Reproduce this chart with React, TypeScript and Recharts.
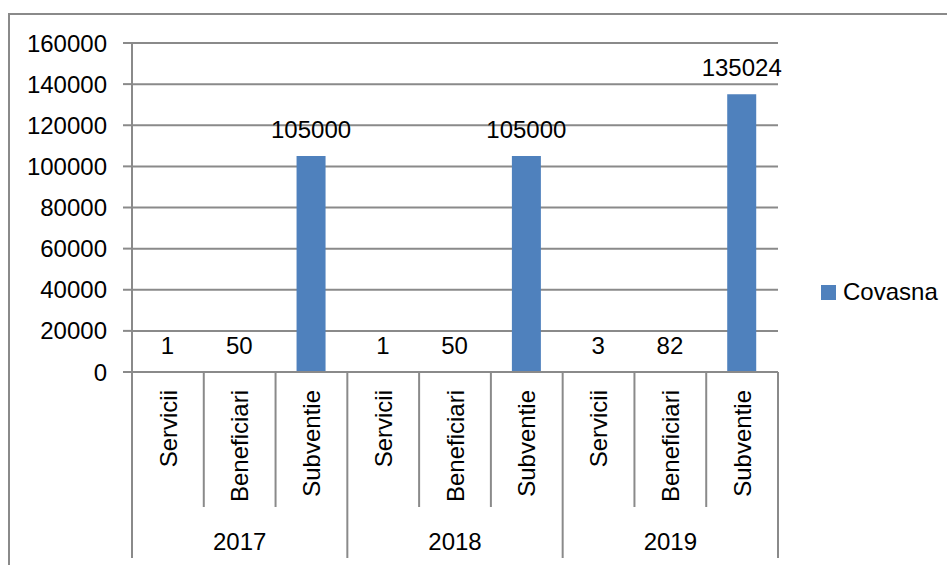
import React from "react";
import {
  BarChart,
  Bar,
  XAxis,
  YAxis,
  CartesianGrid,
  LabelList,
} from "recharts";

// ── Data ───────────────────────────────────────────────────────────────────

const years = ["2017", "2018", "2019"];
const indicators = ["Servicii", "Beneficiari", "Subventie"];
const covasna2017 = [1, 50, 105000];
const covasna2018 = [1, 50, 105000];
const covasna2019 = [3, 82, 135024];
const yTicks = [0, 20000, 40000, 60000, 80000, 100000, 120000, 140000, 160000];
const seriesName = "Covasna";

const valuesByYear = [covasna2017, covasna2018, covasna2019];

const chartData = years.flatMap((year, yi) =>
  indicators.map((ind, ii) => ({
    key: `${year}-${ind}`,
    year,
    indicator: ind,
    Covasna: valuesByYear[yi][ii],
  }))
);

// ── Layout ─────────────────────────────────────────────────────────────────

const W = 947;
const H = 565;
const PLOT_LEFT = 132;
const PLOT_RIGHT = 778;
const PLOT_TOP = 43;
const PLOT_BOTTOM = 372;
const X_AXIS_H = 186;
const BAND = (PLOT_RIGHT - PLOT_LEFT) / chartData.length;

const colors = {
  bar: "#4F81BD",
  grid: "#8a8a8a",
  text: "#000",
};
const FONT = "'Liberation Sans', Arial, sans-serif";
const FS = 24;

// multi-level category axis: rotated indicator, separators, year underneath
function CategoryTick(props: any) {
  const { x, payload } = props;
  const i = payload.index;
  const row = chartData[i];
  const left = x - BAND / 2;
  const groupStart = i % 3 === 0;
  return (
    <g>
      <line
        x1={left}
        x2={left}
        y1={PLOT_BOTTOM}
        y2={groupStart ? PLOT_BOTTOM + 186 : PLOT_BOTTOM + 135}
        stroke={colors.grid}
        strokeWidth={2}
      />
      {i === chartData.length - 1 && (
        <line
          x1={x + BAND / 2}
          x2={x + BAND / 2}
          y1={PLOT_BOTTOM}
          y2={PLOT_BOTTOM + 186}
          stroke={colors.grid}
          strokeWidth={2}
        />
      )}
      <text
        x={x}
        y={390}
        dy="0.36em"
        textAnchor="end"
        transform={`rotate(-90, ${x}, 390)`}
        fontFamily={FONT}
        fontSize={FS}
        fill={colors.text}
      >
        {row.indicator}
      </text>
      {i % 3 === 1 && (
        <text
          x={x}
          y={550}
          textAnchor="middle"
          fontFamily={FONT}
          fontSize={FS}
          fill={colors.text}
        >
          {row.year}
        </text>
      )}
    </g>
  );
}

export default function App() {
  return (
    <div
      style={{
        position: "absolute",
        left: 0,
        top: 0,
        width: W,
        height: H,
        overflow: "hidden",
        background: "#fff",
      }}
    >
      <div
        style={{
          position: "absolute",
          left: 8,
          top: 13,
          width: 1000,
          height: 700,
          border: `2px solid ${colors.grid}`,
        }}
      />
      <div style={{ position: "absolute", left: 0, top: 0 }}>
        <BarChart
          width={W}
          height={H}
          data={chartData}
          margin={{ top: PLOT_TOP, right: W - PLOT_RIGHT, bottom: H - PLOT_BOTTOM - X_AXIS_H, left: 8 }}
        >
          <CartesianGrid vertical={false} stroke={colors.grid} strokeWidth={2} />
          <XAxis
            dataKey="key"
            height={X_AXIS_H}
            interval={0}
            tickLine={false}
            axisLine={{ stroke: colors.grid, strokeWidth: 2 }}
            tick={<CategoryTick />}
          />
          <YAxis
            width={PLOT_LEFT - 8}
            domain={[0, 160000]}
            ticks={yTicks}
            interval={0}
            tickSize={9}
            tickMargin={16}
            tickLine={{ stroke: colors.grid, strokeWidth: 2 }}
            axisLine={{ stroke: colors.grid, strokeWidth: 2 }}
            tick={{ fill: colors.text, fontSize: FS, fontFamily: FONT }}
          />
          <Bar dataKey="Covasna" fill={colors.bar} barSize={29} isAnimationActive={false}>
            <LabelList
              dataKey="Covasna"
              position="top"
              offset={18}
              fill={colors.text}
              fontSize={FS}
              fontFamily={FONT}
            />
          </Bar>
        </BarChart>
      </div>
      {/* legend */}
      <div
        style={{
          position: "absolute",
          left: 821,
          top: 278,
          display: "flex",
          alignItems: "center",
          fontFamily: FONT,
          fontSize: FS,
          color: colors.text,
        }}
      >
        <span
          style={{
            width: 15,
            height: 15,
            background: colors.bar,
            display: "inline-block",
            marginRight: 7,
          }}
        />
        <span>{seriesName}</span>
      </div>
    </div>
  );
}
